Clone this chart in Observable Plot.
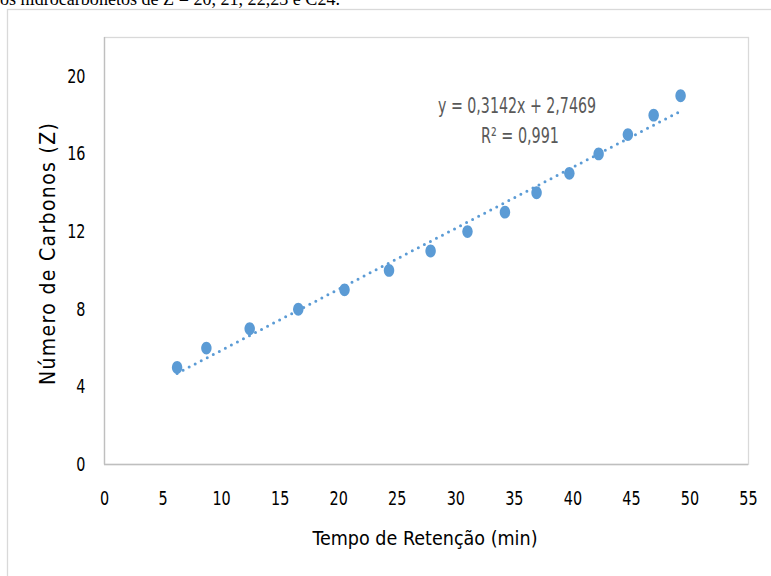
<!DOCTYPE html>
<html>
<head>
<meta charset="utf-8">
<script src="https://cdn.jsdelivr.net/npm/d3@7"></script>
<script src="https://cdn.jsdelivr.net/npm/@observablehq/plot@0.6"></script>
<style>
  html, body { margin: 0; padding: 0; background: #fff; }
  #wrap { position: relative; width: 771px; height: 576px; overflow: hidden; background: #fff; }
  #wrap > svg { position: absolute; left: 0; top: 0; }
  #overlay { pointer-events: none; }
</style>
</head>
<body>
<div id="wrap"></div>
<script>
// ---- data ----
const retentionTimes = [6.2, 8.7, 12.4, 16.55, 20.5, 24.3, 27.85, 31.0, 34.2, 36.9, 39.7, 42.2, 44.7, 46.9, 49.2];
const carbonNumbers  = [5, 6, 7, 8, 9, 10, 11, 12, 13, 14, 15, 16, 17, 18, 19];
const trendSlope = 0.3142;
const trendIntercept = 2.7469;
const equationLines = ["y = 0,3142x + 2,7469", "R² = 0,991"];
const xTicks = [0, 5, 10, 15, 20, 25, 30, 35, 40, 45, 50, 55];
const yTicks = [0, 4, 8, 12, 16, 20];
const xTitle = "Tempo  de Retenção  (min)";
const yTitle = "Número  de Carbonos (Z)";
const topText = "os hidrocarbonetos de Z = 20, 21, 22,23 e C24.";

// ---- derived tables ----
const points = retentionTimes.map((t, i) => ({x: t, y: carbonNumbers[i]}));
const xExt = d3.extent(retentionTimes);
const trend = xExt.map(x => ({x, y: trendSlope * x + trendIntercept}));

const blue = "#5B9BD5";
const narrow = "'Liberation Sans Narrow', 'DejaVu Sans Condensed', 'Arial Narrow', sans-serif";

// elliptical marker (Excel markers appear slightly tall)
const ellipse = {
  draw(ctx, size) {
    const r = Math.sqrt(size / Math.PI);
    const rx = r * 0.87, ry = r * 1.07, k = 0.5523;
    const kx = rx * k, ky = ry * k;
    ctx.moveTo(rx, 0);
    ctx.bezierCurveTo(rx, ky, kx, ry, 0, ry);
    ctx.bezierCurveTo(-kx, ry, -rx, ky, -rx, 0);
    ctx.bezierCurveTo(-rx, -ky, -kx, -ry, 0, -ry);
    ctx.bezierCurveTo(kx, -ry, rx, -ky, rx, 0);
    ctx.closePath();
  }
};

const chart = Plot.plot({
  width: 771,
  height: 576,
  marginLeft: 104,
  marginRight: 23,
  marginTop: 37,
  marginBottom: 112,
  style: {fontFamily: narrow, fontSize: "20px", color: "#000", background: "transparent", overflow: "visible"},
  x: {domain: [0, 55], ticks: xTicks, tickSize: 0, tickPadding: 26, label: null},
  y: {domain: [0, 22], ticks: yTicks, tickSize: 0, tickPadding: 19, label: null},
  marks: [
    Plot.frame({stroke: "#d9d9d9", strokeWidth: 1.3}),
    Plot.ruleX([0], {stroke: "#bfbfbf", strokeWidth: 1.3}),
    Plot.ruleY([0], {stroke: "#bfbfbf", strokeWidth: 1.3}),
    Plot.line(trend, {x: "x", y: "y", stroke: blue, strokeWidth: 3, strokeDasharray: "0,6.8", strokeLinecap: "round"}),
    Plot.dot(points, {x: "x", y: "y", fill: blue, stroke: "none", r: 6, symbol: ellipse}),
    Plot.text([equationLines[0]], {frameAnchor: "top-right", dx: -231.5, dy: 68, text: d => d, textAnchor: "middle", lineAnchor: "middle", fill: "#595959", fontSize: 22}),
    Plot.text([equationLines[1]], {frameAnchor: "top-right", dx: -228.5, dy: 98, text: d => d, textAnchor: "middle", lineAnchor: "middle", fill: "#595959", fontSize: 22})
  ]
});

const wrap = document.getElementById("wrap");

// background decorations (outer chart frame + cut-off text above)
const ns = "http://www.w3.org/2000/svg";
const bg = document.createElementNS(ns, "svg");
bg.setAttribute("width", 771); bg.setAttribute("height", 576);
bg.innerHTML = `<rect x="7.5" y="9.5" width="800" height="600" fill="#fff" stroke="#d9d9d9" stroke-width="1.3"/>`;
wrap.appendChild(bg);
wrap.appendChild(chart);

// narrow the tick labels (reference uses a tall, condensed face)
chart.querySelectorAll('g[aria-label="x-axis tick label"] text, g[aria-label="y-axis tick label"] text').forEach(t => {
  const w = t.getComputedTextLength();
  t.setAttribute("textLength", (w * 0.8).toFixed(2));
  t.setAttribute("lengthAdjust", "spacingAndGlyphs");
});
// fit the equation lines to the reference widths
const eqWidths = {[equationLines[0]]: 158, [equationLines[1]]: 78};
chart.querySelectorAll('g[aria-label="text"] text').forEach(t => {
  const w = eqWidths[t.textContent];
  if (w) { t.setAttribute("textLength", w); t.setAttribute("lengthAdjust", "spacingAndGlyphs"); }
});

const ov = document.createElementNS(ns, "svg");
ov.setAttribute("id", "overlay");
ov.setAttribute("width", 771); ov.setAttribute("height", 576);
function addText(str, attrs) {
  const t = document.createElementNS(ns, "text");
  for (const k in attrs) t.setAttribute(k, attrs[k]);
  t.textContent = str;
  ov.appendChild(t);
  return t;
}
addText(topText, {x: 0, y: 4.5, "font-family": "'Liberation Serif', 'Times New Roman', serif", "font-size": 18, fill: "#000", textLength: 340, lengthAdjust: "spacingAndGlyphs"});
addText(xTitle, {x: 425, y: 545, "text-anchor": "middle", "font-family": narrow, "font-size": 20, fill: "#000", textLength: 225, lengthAdjust: "spacingAndGlyphs"});
addText(yTitle, {x: 0, y: 0, transform: "translate(55,254) rotate(-90)", "text-anchor": "middle", "font-family": narrow, "font-size": 21, fill: "#000", textLength: 262, lengthAdjust: "spacing"});
wrap.appendChild(ov);
</script>
</body>
</html>
